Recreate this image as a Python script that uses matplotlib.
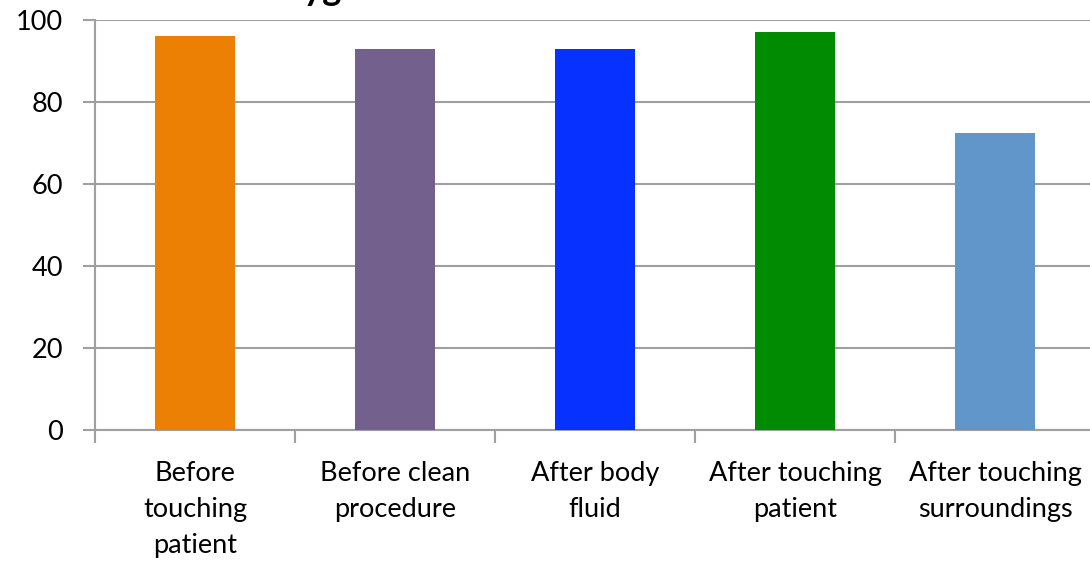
import numpy as np
from matplotlib import pyplot as plt
from matplotlib.ticker import FixedLocator

categories = ['Before\ntouching\npatient', 'Before clean\nprocedure', 'After body\nfluid',
              'After touching\npatient', 'After touching\nsurroundings']
values = [96, 93, 93, 97, 72.5]
colors = ['#EC8004', '#74608C', '#0731FF', '#008B02', '#6096C9']
yticks = [0, 20, 40, 60, 80, 100]

plt.rcParams['font.family'] = ['Lato', 'DejaVu Sans']

fig = plt.figure(figsize=(10.9, 5.63), dpi=100)
ax = fig.add_axes([95 / 1090, 1 - 430 / 563, 1 - 95 / 1090, 410 / 563])

x = np.arange(len(values))
ax.bar(x, values, width=0.4, color=colors, zorder=3)

ax.set_xlim(-0.5, 4.475)
ax.set_ylim(0, 100)

ax.set_yticks(yticks)
ax.set_yticklabels([str(t) for t in yticks], fontsize=19.5)
ax.tick_params(axis='y', length=9, width=1.5, color='#A0A0A0', pad=14)
ax.yaxis.grid(True, color='#A0A0A0', lw=1.5, zorder=0)

ax.set_xticks(x)
ax.set_xticklabels(categories, fontsize=19.5, linespacing=1.55)
ax.tick_params(axis='x', which='major', length=0, pad=22)
ax.xaxis.set_minor_locator(FixedLocator(np.arange(-0.5, 5, 1)))
ax.tick_params(axis='x', which='minor', length=9, width=1.5, color='#A0A0A0')

for side in ['top', 'right']:
    ax.spines[side].set_visible(False)
for side in ['left', 'bottom']:
    ax.spines[side].set_color('#A0A0A0')
    ax.spines[side].set_linewidth(1.5)

# title sits mostly above the visible canvas, only descenders show
fig.text(0.1716, 1.0, 'Hand hygiene', fontsize=26, fontweight='bold',
         ha='left', va='baseline')

fig.savefig('out.png', dpi=100)
